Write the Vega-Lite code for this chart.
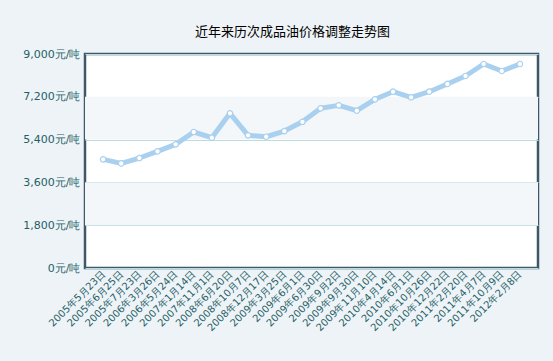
{
  "$schema": "https://vega.github.io/schema/vega-lite/v6.json",
  "autosize": {"type": "none"},
  "width": 453,
  "height": 214,
  "padding": {"left": 85, "top": 54, "right": 15, "bottom": 93},
  "background": "#eef3f7",
  "title": {
    "text": "近年来历次成品油价格调整走势图",
    "font": "Noto Sans CJK SC",
    "fontSize": 13,
    "fontWeight": "normal",
    "color": "#000000",
    "anchor": "middle",
    "dx": -19,
    "offset": 9
  },
  "config": {
    "view": {"fill": "#ffffff", "stroke": "#3f5868", "strokeWidth": 2.5},
    "axis": {
      "labelFont": "DejaVu Sans",
      "labelColor": "#1f5f66",
      "domain": false,
      "ticks": false
    }
  },
  "datasets": {
    "prices": [
      {"date": "2005年5月23日", "price": 4570},
      {"date": "2005年6月25日", "price": 4400},
      {"date": "2005年7月23日", "price": 4625},
      {"date": "2006年3月26日", "price": 4905},
      {"date": "2006年5月24日", "price": 5200},
      {"date": "2007年1月14日", "price": 5720},
      {"date": "2007年11月1日", "price": 5480},
      {"date": "2008年6月20日", "price": 6505},
      {"date": "2008年10月7日", "price": 5580},
      {"date": "2008年12月17日", "price": 5520},
      {"date": "2009年3月25日", "price": 5760},
      {"date": "2009年6月1日", "price": 6150},
      {"date": "2009年6月30日", "price": 6715},
      {"date": "2009年9月2日", "price": 6840},
      {"date": "2009年9月30日", "price": 6615},
      {"date": "2009年11月10日", "price": 7095},
      {"date": "2010年4月14日", "price": 7415},
      {"date": "2010年6月1日", "price": 7180},
      {"date": "2010年10月26日", "price": 7415},
      {"date": "2010年12月22日", "price": 7740},
      {"date": "2011年2月20日", "price": 8075},
      {"date": "2011年4月7日", "price": 8580},
      {"date": "2011年10月9日", "price": 8285},
      {"date": "2012年2月8日", "price": 8580}
    ],
    "bands": [
      {"lo": 1800, "hi": 3600},
      {"lo": 5400, "hi": 7200}
    ]
  },
  "layer": [
    {
      "data": {"name": "bands"},
      "mark": {"type": "rect", "color": "#f4f7f9"},
      "encoding": {
        "y": {"field": "lo", "type": "quantitative", "scale": {"domain": [0, 9000]}},
        "y2": {"field": "hi"}
      }
    },
    {
      "data": {"name": "prices"},
      "encoding": {
        "x": {
          "field": "date",
          "type": "ordinal",
          "sort": null,
          "scale": {"type": "point", "padding": 1.08},
          "axis": {
            "title": null,
            "labelAngle": -45,
            "labelFontSize": 10,
            "labelAlign": "right",
            "labelBaseline": "middle",
            "labelPadding": 4,
            "grid": false
          }
        },
        "y": {
          "field": "price",
          "type": "quantitative",
          "scale": {"domain": [0, 9000], "nice": false},
          "axis": {
            "title": null,
            "values": [0, 1800, 3600, 5400, 7200, 9000],
            "labelExpr": "format(datum.value, ',') + '元/吨'",
            "labelFontSize": 11,
            "labelPadding": 5,
            "grid": true,
            "gridColor": "#b8dde2",
            "gridWidth": 1
          }
        }
      },
      "layer": [
        {
          "mark": {"type": "line", "color": "#a9d0ef", "strokeWidth": 5, "strokeJoin": "round", "strokeCap": "round"}
        },
        {
          "mark": {"type": "point", "filled": true, "fill": "#ffffff", "stroke": "#a9d0ef", "strokeWidth": 1.2, "size": 30, "opacity": 1}
        }
      ]
    }
  ]
}
